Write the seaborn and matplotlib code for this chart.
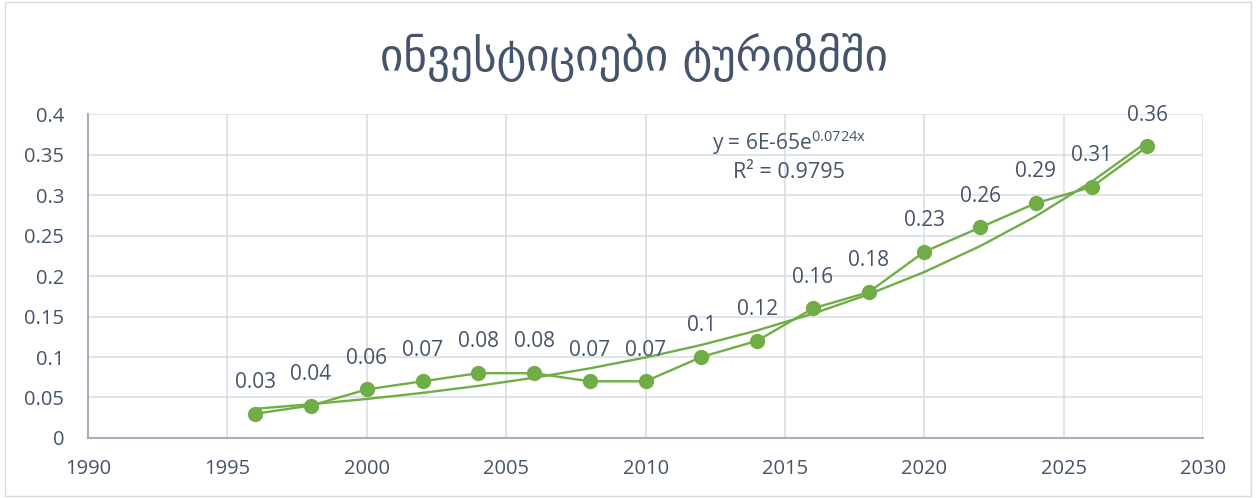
import numpy as np
import pandas as pd
import matplotlib
matplotlib.use("Agg")
import matplotlib.pyplot as plt
import seaborn as sns

title = "ინვესტიციები ტურიზმში"
years = [1996, 1998, 2000, 2002, 2004, 2006, 2008, 2010, 2012, 2014,
         2016, 2018, 2020, 2022, 2024, 2026, 2028]
values = [0.03, 0.04, 0.06, 0.07, 0.08, 0.08, 0.07, 0.07, 0.10, 0.12,
          0.16, 0.18, 0.23, 0.26, 0.29, 0.31, 0.36]
x_ticks = [1990, 1995, 2000, 2005, 2010, 2015, 2020, 2025, 2030]
y_ticks = [0, 0.05, 0.1, 0.15, 0.2, 0.25, 0.3, 0.35, 0.4]
eq_text = "y = 6E-65e$^{0.0724x}$"
r2_text = "R² = 0.9795"

sns.set_theme(style="white")
plt.rcParams['font.family'] = ['Open Sans', 'DejaVu Sans']
plt.rcParams['mathtext.default'] = 'regular'

TXT = "#44546A"
GREEN = "#70AD47"

df = pd.DataFrame({"year": years, "value": values})

# exponential trendline (least squares on log values, as Excel does)
xs = np.array(years, dtype=float)
ly = np.log(np.array(values))
b, lna = np.polyfit(xs, ly, 1)
trend = pd.DataFrame({"year": xs, "value": np.exp(lna + b * xs)})

fig = plt.figure(figsize=(12.56, 4.98), dpi=100)
ax = fig.add_axes([0.070, 0.1205, 0.888, 0.6505])

sns.lineplot(data=df, x="year", y="value", ax=ax, color=GREEN, lw=1.7,
             marker="o", markersize=11, markeredgewidth=0, zorder=3)
sns.lineplot(data=trend, x="year", y="value", ax=ax, color=GREEN, lw=1.7,
             zorder=2)

for xv, yv in zip(years, values):
    ax.annotate(f"{yv:g}", (xv, yv), xytext=(0, 22.5), textcoords="offset points",
                ha="center", va="center", fontsize=15, color=TXT)

ax.text(2015.15, 0.364, eq_text, ha="center", va="center", fontsize=15,
        color=TXT)
ax.text(2015.15, 0.328, r2_text, ha="center", va="center", fontsize=15.5,
        color=TXT)

ax.set_xlim(1990, 2030)
ax.set_ylim(0, 0.4)
ax.set_xticks(x_ticks)
ax.set_yticks(y_ticks)
ax.set_xticklabels([str(t) for t in x_ticks])
ax.set_yticklabels([f"{t:g}" for t in y_ticks])
ax.tick_params(axis="both", length=0, labelsize=14.5, labelcolor=TXT)
ax.tick_params(axis="y", pad=17)
ax.tick_params(axis="x", pad=15)
ax.set_xlabel("")
ax.set_ylabel("")
ax.grid(True, color="#D9DEE6", lw=1.2)
ax.set_axisbelow(True)
for s in ["top", "right"]:
    ax.spines[s].set_visible(False)
for s in ["left", "bottom"]:
    ax.spines[s].set_color("#A6B0C0")
    ax.spines[s].set_linewidth(1.5)

fig.text(0.505, 0.885, title, ha="center", va="center", fontsize=32.5,
         color=TXT, family=['DejaVu Sans'])

fig.patches.append(plt.Rectangle((0.004, 0.004), 0.992, 0.992,
                                 transform=fig.transFigure, fill=False,
                                 edgecolor="#D9D9D9", lw=1))

fig.savefig("out.png", dpi=100, facecolor="white")
